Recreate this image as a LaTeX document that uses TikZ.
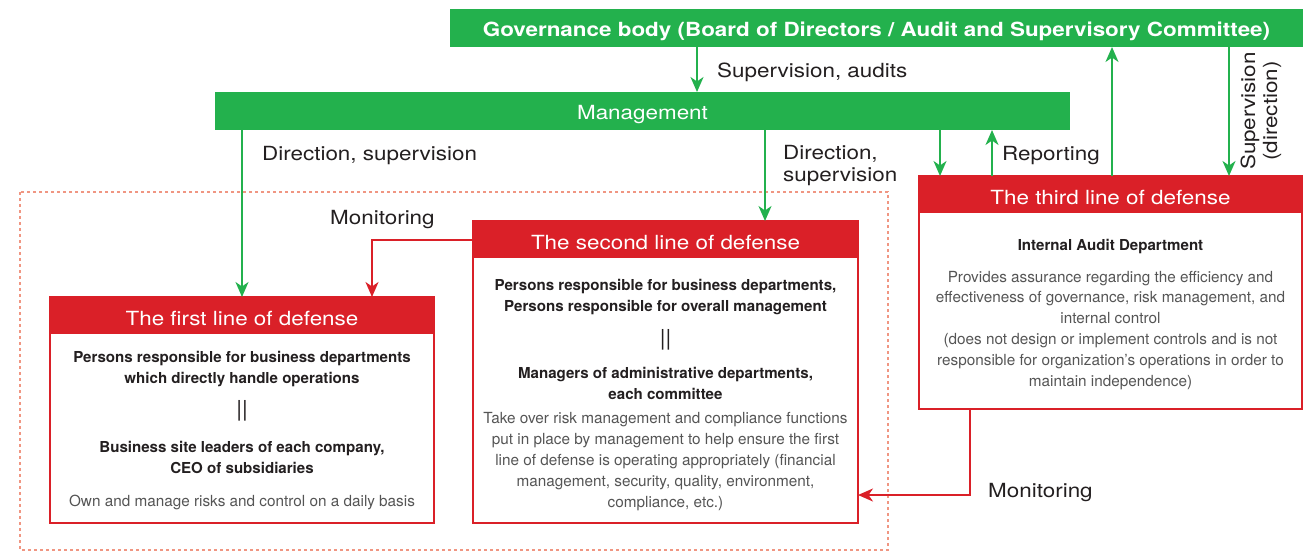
\documentclass[tikz,border=0pt]{standalone}
\usepackage{fontspec}
\setmainfont{TeX Gyre Heros}
\newfontfamily\bigfont{TeX Gyre Heros}[FakeStretch=1.15]
\usetikzlibrary{arrows.meta}
\definecolor{grn}{RGB}{35,177,77}
\definecolor{rd}{RGB}{218,32,40}
\definecolor{dsh}{RGB}{240,150,130}
\definecolor{txt}{RGB}{35,31,32}
\definecolor{gry}{RGB}{85,85,85}
\tikzset{
  greenbox/.style={fill=grn, draw=none, inner sep=0pt, outer sep=0pt, anchor=north west, text=white},
  bodybox/.style={draw=rd, line width=1.6pt, fill=white, inner sep=0pt, outer sep=0pt, anchor=north west},
  headbox/.style={fill=rd, draw=none, inner sep=0pt, outer sep=0pt, anchor=north west, text=white},
  bigwhite/.style={text=white, inner sep=0pt, yshift=-2.5pt, font=\bigfont\fontsize{19.5}{22}\selectfont},
  lbl/.style={inner sep=0pt, yshift=-2.5pt, text=txt, font=\bigfont\fontsize{19.5}{22}\selectfont},
  boldtxt/.style={inner sep=0pt, yshift=-2pt, text=txt, align=center, font=\bfseries\fontsize{15.1}{21}\selectfont},
  graytxt/.style={inner sep=0pt, yshift=-2.5pt, text=gry, align=center, font=\fontsize{15.3}{21.2}\selectfont},
  eqtxt/.style={inner sep=0pt, text=txt, font=\fontsize{22}{22}\selectfont},
  garrow/.style={draw=grn, line width=2pt, -{Stealth[length=15pt,width=13pt,inset=4.5pt]}},
  rarrow/.style={draw=rd, line width=2pt, -{Stealth[length=15pt,width=13pt,inset=4.5pt]}},
}
\begin{document}
\begin{tikzpicture}[x=1pt,y=-1pt]
\useasboundingbox (0,0) rectangle (1303,552);
% dashed group frame
\draw[dsh, line width=1.3pt, dash pattern=on 3pt off 3pt] (20,192) rectangle (888,550);

% green boxes
\node[greenbox, minimum width=853pt, minimum height=38pt] (gov) at (450,9) {};
\node[bigwhite, font=\bigfont\bfseries\fontsize{19.5}{22}\selectfont] (govt) at (876.5,28.5) {Governance body (Board of Directors / Audit and Supervisory Committee)};
\node[greenbox, minimum width=855pt, minimum height=38pt] (mgmt) at (215,92) {};
\node[bigwhite] (mgmtt) at (642.5,112) {Management};

% red boxes
\node[bodybox, minimum width=384pt, minimum height=226pt] (b1) at (50,297) {};
\node[headbox, minimum width=384pt, minimum height=37pt] (h1) at (50,297) {};
\node[bigwhite] (h1t) at (242,316) {The first line of defense};

\node[bodybox, minimum width=385pt, minimum height=302pt] (b2) at (473,221) {};
\node[headbox, minimum width=385pt, minimum height=37pt] (h2) at (473,221) {};
\node[bigwhite] (h2t) at (665.5,240) {The second line of defense};

\node[bodybox, minimum width=383pt, minimum height=233pt] (b3) at (919,176) {};
\node[headbox, minimum width=383pt, minimum height=37pt] (h3) at (919,176) {};
\node[bigwhite] (h3t) at (1110.5,195) {The third line of defense};

% box texts
\node[boldtxt] (t1a) at (242,367.5) {Persons responsible for business departments\\which directly handle operations};
\node[eqtxt] (t1b) at (242,411) {||};
\node[boldtxt] (t1c) at (242,455.5) {Business site leaders of each company,\\CEO of subsidiaries};
\node[graytxt] (t1d) at (242,500) {Own and manage risks and control on a daily basis};

\node[boldtxt] (t2a) at (665.5,295.5) {Persons responsible for business departments,\\Persons responsible for overall management};
\node[eqtxt] (t2b) at (665.5,340) {||};
\node[boldtxt] (t2c) at (665.5,381.5) {Managers of administrative departments,\\each committee};
\node[graytxt] (t2d) at (665.5,459) {Take over risk management and compliance functions\\put in place by management to help ensure the first\\line of defense is operating appropriately (financial\\management, security, quality, environment,\\compliance, etc.)};

\node[boldtxt] (t3a) at (1110.5,245) {Internal Audit Department};
\node[graytxt, font=\fontsize{15.3}{20.8}\selectfont] (t3b) at (1110.5,327.7) {Provides assurance regarding the efficiency and\\effectiveness of governance, risk management, and\\internal control\\(does not design or implement controls and is not\\responsible for organization’s operations in order to\\maintain independence)};

% column coordinates
\coordinate (xA) at (697,0);
\coordinate (xB) at (242,0);
\coordinate (xC) at (765,0);
\coordinate (xD) at (940,0);
\coordinate (xE) at (992,0);
\coordinate (xF) at (1112,0);
\coordinate (xG) at (1229,0);
\coordinate (xH) at (372,0);
\coordinate (xI) at (970,495);

% green connectors
\draw[garrow] (gov.south -| xA) -- (mgmt.north -| xA);
\draw[garrow] (mgmt.south -| xB) -- (b1.north -| xB);
\draw[garrow] (mgmt.south -| xC) -- (b2.north -| xC);
\draw[garrow] (mgmt.south -| xD) -- (b3.north -| xD);
\draw[garrow] (b3.north -| xE) -- (mgmt.south -| xE);
\draw[garrow] (b3.north -| xF) -- (gov.south -| xF);
\draw[garrow] (gov.south -| xG) -- (b3.north -| xG);

% red connectors
\draw[rarrow] (h2.west) -| (b1.north -| xH);
\draw[rarrow] (b3.south -| xI) |- (b2.east |- xI);

% labels
\node[lbl, anchor=west] (l1) at (717,70) {Supervision, audits};
\node[lbl, anchor=west] (l2) at (262,153) {Direction, supervision};
\node[lbl, anchor=west, align=left] (l3) at (783,163) {Direction,\\supervision};
\node[lbl, anchor=west] (l4) at (1002,153) {Reporting};
\node[lbl, anchor=west] (l5) at (330,217) {Monitoring};
\node[lbl, anchor=west] (l6) at (988,490) {Monitoring};
\node[inner sep=0pt, text=txt, font=\bigfont\fontsize{19.5}{22}\selectfont, align=center, rotate=90] (l7) at (1261,111) {Supervision\\(direction)};
\end{tikzpicture}
\end{document}
